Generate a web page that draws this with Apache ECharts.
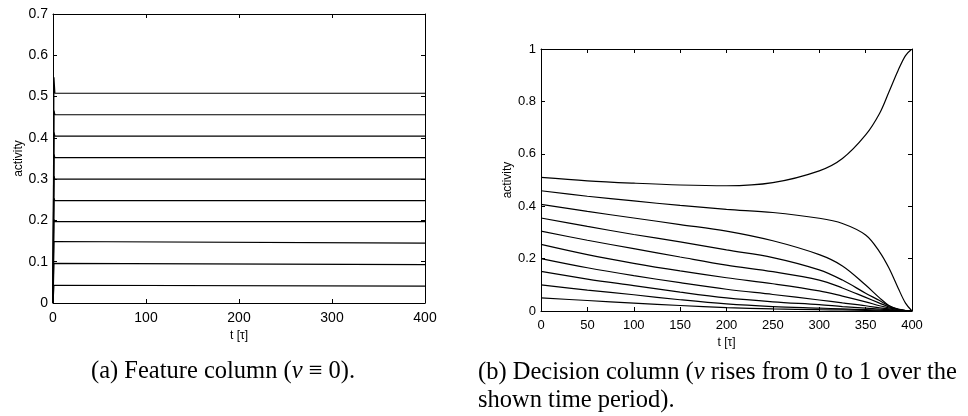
<!DOCTYPE html>
<html>
<head>
<meta charset="utf-8">
<script src="https://cdn.jsdelivr.net/npm/echarts@6/dist/echarts.min.js"></script>
<style>
  html, body { margin: 0; padding: 0; background: #fff; }
  #main { width: 968px; height: 416px; }
</style>
</head>
<body>
<div id="main"></div>
<script>
// (a) feature column: fast rise at t=0, then flat
var tA = [0, 1, 2, 400];
var levelsA = [0.041, 0.093, 0.145, 0.197, 0.248, 0.300, 0.352, 0.404, 0.456, 0.508];
var peaksA  = [0.043, 0.096, 0.149, 0.202, 0.254, 0.307, 0.360, 0.413, 0.466, 0.547];

// (b) decision column
var tB = [0, 50, 100, 150, 200, 250, 300, 325, 350, 365, 375, 385, 393, 400];
var b1  = [0.510, 0.497, 0.488, 0.481, 0.478, 0.490, 0.535, 0.582, 0.672, 0.754, 0.835, 0.918, 0.975, 1.000];
var b2  = [0.459, 0.438, 0.420, 0.403, 0.388, 0.376, 0.354, 0.334, 0.290, 0.226, 0.165, 0.088, 0.030, 0.000];
var b3  = [0.407, 0.380, 0.355, 0.330, 0.305, 0.268, 0.215, 0.172, 0.099, 0.050, 0.021, 0.005, 0.001, 0.000];
var b4  = [0.355, 0.323, 0.292, 0.264, 0.233, 0.204, 0.157, 0.118, 0.068, 0.040, 0.020, 0.007, 0.002, 0.000];
var b5  = [0.305, 0.270, 0.238, 0.206, 0.175, 0.150, 0.118, 0.088, 0.052, 0.030, 0.016, 0.006, 0.002, 0.000];
var b6  = [0.254, 0.215, 0.182, 0.153, 0.127, 0.104, 0.077, 0.057, 0.035, 0.020, 0.012, 0.005, 0.001, 0.000];
var b7  = [0.200, 0.165, 0.135, 0.108, 0.083, 0.063, 0.042, 0.031, 0.020, 0.012, 0.008, 0.003, 0.001, 0.000];
var b8  = [0.151, 0.122, 0.097, 0.072, 0.050, 0.035, 0.024, 0.017, 0.011, 0.007, 0.005, 0.002, 0.001, 0.000];
var b9  = [0.100, 0.080, 0.062, 0.043, 0.027, 0.017, 0.011, 0.008, 0.005, 0.003, 0.002, 0.001, 0.000, 0.000];
var b10 = [0.050, 0.040, 0.030, 0.021, 0.013, 0.008, 0.005, 0.004, 0.002, 0.001, 0.001, 0.000, 0.000, 0.000];
var curvesB = [b1, b2, b3, b4, b5, b6, b7, b8, b9, b10];

var chart = echarts.init(document.getElementById('main'), null, { renderer: 'canvas' });

var FONT = 'Liberation Sans, Arial, sans-serif';

// box style axis pair (matlab look: ticks inside, frame on all sides)
function makeX(grid, max, step, size, show, pos) {
    return {
        type: 'value', gridIndex: grid, position: pos, min: 0, max: max, interval: step,
        name: show ? 't [\u03c4]' : '', nameLocation: 'middle', nameGap: 22,
        nameTextStyle: { color: '#000', fontFamily: FONT, fontSize: 12 },
        axisLine: { onZero: false, lineStyle: { color: '#000', width: 1 } },
        axisTick: { show: true, inside: true, length: 4, lineStyle: { color: '#000' } },
        axisLabel: { show: show, color: '#000', fontFamily: FONT, fontSize: size, margin: 8 },
        splitLine: { show: false }
    };
}
function makeY(grid, max, step, size, show, pos) {
    return {
        type: 'value', gridIndex: grid, position: pos, min: 0, max: max, interval: step,
        name: show ? 'activity' : '', nameLocation: 'middle', nameGap: grid === 0 ? 27 : 26,
        nameTextStyle: { color: '#000', fontFamily: FONT, fontSize: 12 },
        axisLine: { onZero: false, lineStyle: { color: '#000', width: 1 } },
        axisTick: { show: true, inside: true, length: 4, lineStyle: { color: '#000' } },
        axisLabel: { show: show, color: '#000', fontFamily: FONT, fontSize: size, margin: 5 },
        splitLine: { show: false }
    };
}

var series = [];
// left chart lines
for (var i = 0; i < levelsA.length; i++) {
    var d = [[tA[0], 0], [tA[1], peaksA[i]], [tA[2], levelsA[i]], [tA[3], levelsA[i]]];
    series.push({
        type: 'line', xAxisIndex: 0, yAxisIndex: 0, data: d, symbol: 'none',
        lineStyle: { color: '#000', width: 1.2 }, animation: false
    });
}
// right chart curves
for (var j = 0; j < curvesB.length; j++) {
    var pts = [];
    for (var k = 0; k < tB.length; k++) pts.push([tB[k], curvesB[j][k]]);
    series.push({
        type: 'line', xAxisIndex: 2, yAxisIndex: 2, data: pts, symbol: 'none',
        smooth: 0.35, lineStyle: { color: '#000', width: 1.2 }, animation: false
    });
}

var capFont = '24.5px "Liberation Serif", "Times New Roman", serif';

var option = {
    backgroundColor: '#fff',
    animation: false,
    grid: [
        { left: 53, top: 14, width: 372, height: 289 },
        { left: 53, top: 14, width: 372, height: 289 },
        { left: 541, top: 49, width: 371, height: 262 },
        { left: 541, top: 49, width: 371, height: 262 }
    ],
    xAxis: [
        makeX(0, 400, 100, 14, true, 'bottom'),
        makeX(1, 400, 100, 14, false, 'top'),
        makeX(2, 400, 50, 13, true, 'bottom'),
        makeX(3, 400, 50, 13, false, 'top')
    ],
    yAxis: [
        makeY(0, 0.7, 0.1, 14, true, 'left'),
        makeY(1, 0.7, 0.1, 14, false, 'right'),
        makeY(2, 1, 0.2, 13, true, 'left'),
        makeY(3, 1, 0.2, 13, false, 'right')
    ],
    graphic: [
        {
            type: 'text', left: 91, top: 359,
            style: {
                text: '(a) Feature column ({i|\u03bd} \u2261 0).',
                font: capFont, fill: '#000',
                rich: { i: { fontStyle: 'italic', fontFamily: 'Liberation Serif', fontSize: 24.5 } }
            }
        },
        {
            type: 'text', left: 478, top: 359,
            style: {
                text: '(b) Decision column ({i|\u03bd} rises from 0 to 1 over the\nshown time period).',
                font: capFont, fill: '#000', lineHeight: 28,
                rich: { i: { fontStyle: 'italic', fontFamily: 'Liberation Serif', fontSize: 24.5 } }
            }
        }
    ],
    series: series
};

chart.setOption(option);
</script>
</body>
</html>
